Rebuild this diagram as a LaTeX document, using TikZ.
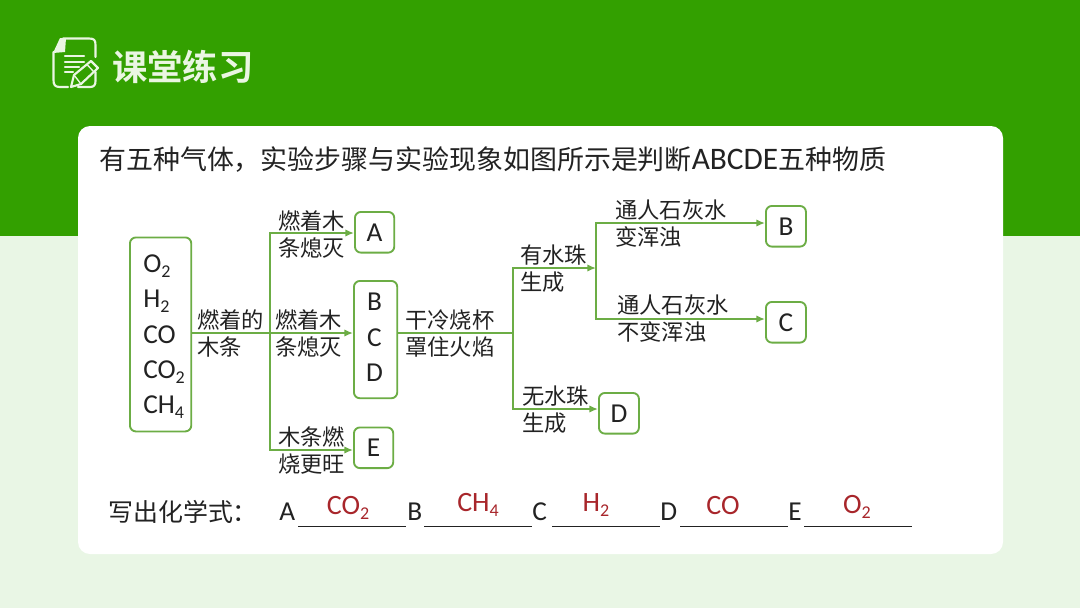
\documentclass[tikz,border=0pt]{standalone}
\usepackage{fontspec}
\setmainfont{Carlito}
\newfontfamily\cjk{Noto Sans CJK SC}
\newfontfamily\cjkbold{Noto Sans CJK SC Bold}
\usetikzlibrary{arrows.meta}
\definecolor{topgreen}{HTML}{33A000}
\definecolor{palegreen}{HTML}{E9F6E5}
\definecolor{linegreen}{HTML}{6CAD45}
\definecolor{inkgrey}{HTML}{222222}
\definecolor{answerred}{HTML}{A8262B}
\definecolor{iconwhite}{HTML}{EAF6E2}
\newcommand{\subs}[1]{\raisebox{-0.4ex}{\fontsize{13.5pt}{14pt}\selectfont #1}}
\tikzset{
  x=0.75pt,y=-0.75pt,
  box/.style={draw=linegreen,line width=1.4pt,rounded corners=4.5pt,fill=white,inner sep=0pt},
  flow/.style={draw=linegreen,line width=1.2pt},
  arrowflow/.style={flow,-{Latex[length=6.5pt,width=5.5pt,color=linegreen]}},
  lab/.style={anchor=west,inner sep=0pt,text=inkgrey,font=\fontsize{16.7pt}{20pt}\selectfont\cjk},
  chem/.style={inner sep=0pt,text=inkgrey,font=\fontsize{20.5pt}{22pt}\selectfont},
  answer/.style={inner sep=0pt,text=answerred,font=\fontsize{21pt}{22pt}\selectfont},
  blankline/.style={fill=inkgrey,inner sep=0pt,minimum height=0.6pt,minimum width=81pt},
  icon/.style={draw=iconwhite,line width=1.6pt,line cap=round,line join=round},
}
\begin{document}
\begin{tikzpicture}
\useasboundingbox (0,0) rectangle (1080,608);
% background
\fill[palegreen] (0,0) rectangle (1080,608);
\fill[topgreen] (0,0) rectangle (1080,236);
\fill[white,rounded corners=9pt] (78,126) rectangle (1003,554);
% icon
\draw[icon] (63,38.5) -- (89,38.5) .. controls (94,38.5) and (95.5,40) .. (95.5,45) -- (95.5,57);
\draw[icon] (95.5,72) -- (95.5,81) .. controls (95.5,85) and (94,87) .. (90,87) -- (78,87);
\draw[icon] (68,87) -- (60,87) .. controls (55,87) and (53.5,85) .. (53.5,80) -- (53.5,52);
\fill[iconwhite] (53,53) -- (60,38) -- (66,38) -- (65,52) -- cycle;
\draw[icon] (65,56) -- (84,56) (65,62) -- (84,62) (65,67) -- (79,67) (65,72) -- (73,72);
\draw[icon] (71,87) -- (74,75) -- (91,61) -- (98,68) -- (81,84) -- cycle;
\draw[icon,line width=1pt] (74,75) -- (81,84) (87,64.5) -- (94,72);
% title
\node[anchor=west,inner sep=0pt,text=iconwhite,font=\fontsize{26.5pt}{30pt}\selectfont\cjkbold] (title) at (112,67) {课堂练习};
% question
\node[anchor=west,inner sep=0pt,text=inkgrey,font=\fontsize{20.2pt}{24pt}\selectfont] (question) at (99,160)
  {{\cjk 有五种气体，实验步骤与实验现象如图所示是判断}{\fontsize{23.5pt}{24pt}\selectfont ABCDE}{\cjk 五种物质}};
% boxes
\node[box,anchor=north west,minimum width=46pt,minimum height=145.5pt] (gases) at (129,236.5) {};
\node[chem,anchor=west] (g1) at (143,266) {O\subs{2}};
\node[chem,anchor=west] (g2) at (143,301) {H\subs{2}};
\node[chem,anchor=west] (g3) at (143,335) {CO};
\node[chem,anchor=west] (g4) at (143,372) {CO\subs{2}};
\node[chem,anchor=west] (g5) at (143,407) {CH\subs{4}};
\node[box,anchor=north west,minimum width=29.5pt,minimum height=30.5pt] (A) at (354,211) {};
\node[chem] (At) at (A.center) {A};
\node[box,anchor=north west,minimum width=32.5pt,minimum height=88pt] (BCD) at (353,280) {};
\node[chem] (b1) at (374.5,302) {B};
\node[chem] (b2) at (374.5,338) {C};
\node[chem] (b3) at (374.5,373) {D};
\node[box,anchor=north west,minimum width=29.5pt,minimum height=30.5pt] (E) at (353,426.5) {};
\node[chem] (Et) at (E.center) {E};
\node[box,anchor=north west,minimum width=30pt,minimum height=30.5pt] (B) at (765,205) {};
\node[chem] (Bt) at (B.center) {B};
\node[box,anchor=north west,minimum width=30pt,minimum height=30.5pt] (C) at (765,301) {};
\node[chem] (Ct) at (C.center) {C};
\node[box,anchor=north west,minimum width=30pt,minimum height=30.5pt] (D) at (598,392) {};
\node[chem] (Dt) at (D.center) {D};
% junctions
\coordinate (j1) at (270,333);
\coordinate (j1a) at (270,233);
\coordinate (j1e) at (270,450);
\coordinate (j2) at (513,333);
\coordinate (j2u) at (513,268);
\coordinate (j2d) at (513,409);
\coordinate (j3) at (596,268);
\coordinate (j3u) at (596,223);
\coordinate (j3d) at (596,319);
% connectors
\draw[arrowflow] (gases.east |- j1) -- (BCD.west |- j1);
\draw[arrowflow] (j1) -- (j1a) -- (A.west |- j1a);
\draw[arrowflow] (j1) -- (j1e) -- (E.west |- j1e);
\draw[flow] (BCD.east |- j2) -- (j2);
\draw[arrowflow] (j2) -- (j2u) -- (j3);
\draw[arrowflow] (j2) -- (j2d) -- (D.west |- j2d);
\draw[arrowflow] (j3) -- (j3u) -- (B.west |- j3u);
\draw[arrowflow] (j3) -- (j3d) -- (C.west |- j3d);
% labels
\node[lab] (l1a) at (278,221) {燃着木};
\node[lab] (l1b) at (278,248) {条熄灭};
\node[lab] (l2a) at (275,320) {燃着木};
\node[lab] (l2b) at (275,347) {条熄灭};
\node[lab] (l3a) at (197,320) {燃着的};
\node[lab] (l3b) at (197,347) {木条};
\node[lab] (l4a) at (278,437) {木条燃};
\node[lab] (l4b) at (278,464) {烧更旺};
\node[lab] (l5a) at (405,320) {干冷烧杯};
\node[lab] (l5b) at (405,347) {罩住火焰};
\node[lab] (l6a) at (520,255) {有水珠};
\node[lab] (l6b) at (520,282) {生成};
\node[lab] (l7a) at (615,210) {通人石灰水};
\node[lab] (l7b) at (615,237) {变浑浊};
\node[lab] (l8a) at (617,305) {通人石灰水};
\node[lab] (l8b) at (617,332) {不变浑浊};
\node[lab] (l9a) at (522,396) {无水珠};
\node[lab] (l9b) at (522,423) {生成};
% answers
\node[lab,font=\fontsize{18.7pt}{20pt}\selectfont\cjk] (prompt) at (108,512) {写出化学式：};
\node[chem,anchor=west] (la) at (279,512) {A};
\node[chem,anchor=west] (lb) at (407,512) {B};
\node[chem,anchor=west] (lc) at (532,512) {C};
\node[chem,anchor=west] (ld) at (660,512) {D};
\node[chem,anchor=west] (le) at (788,512) {E};
\node[blankline,anchor=west] (ua) at (298,526) {};
\node[blankline,anchor=west] (ub) at (424,526) {};
\node[blankline,anchor=west] (uc) at (552,526) {};
\node[blankline,anchor=west] (ud) at (680,526) {};
\node[blankline,anchor=west] (ue) at (804,526) {};
\node[answer] (aa) at (348,508) {CO\subs{2}};
\node[answer] (ab) at (478,505) {CH\subs{4}};
\node[answer] (ac) at (596,505) {H\subs{2}};
\node[answer] (ad) at (723,505) {CO};
\node[answer] (ae) at (857,507) {O\subs{2}};
\end{tikzpicture}
\end{document}
